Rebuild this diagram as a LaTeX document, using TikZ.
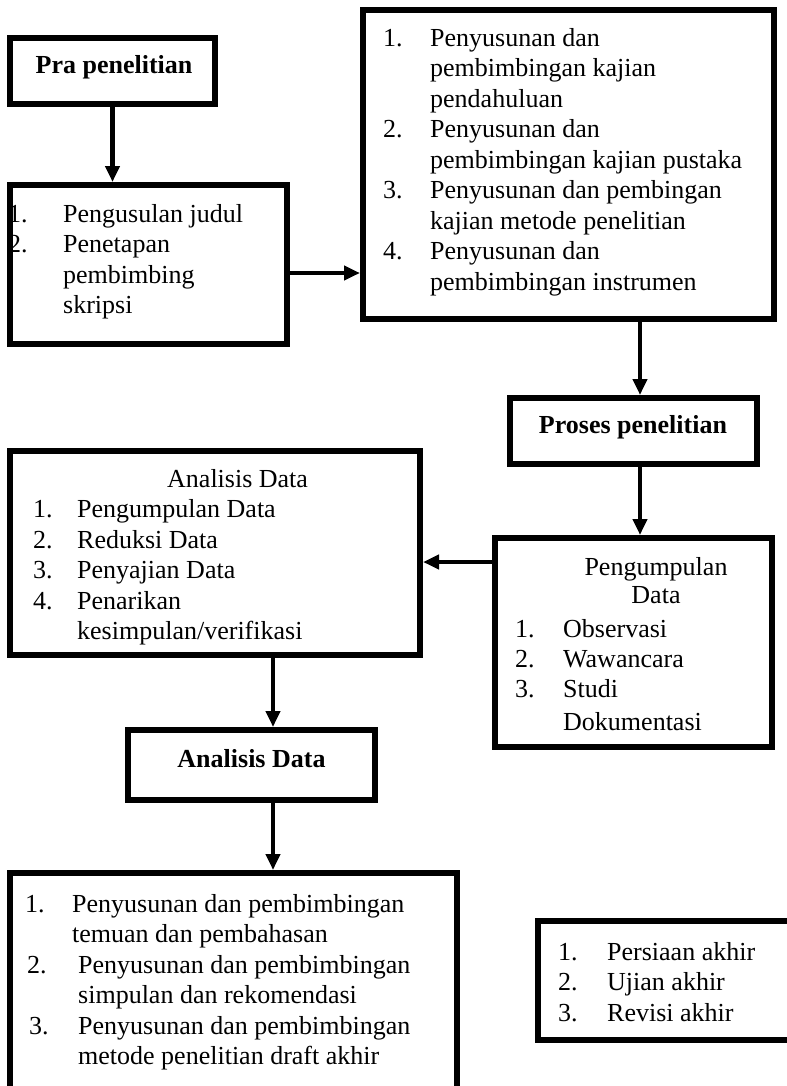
\documentclass[tikz,border=0pt]{standalone}
\usepackage{fontspec}
\setmainfont{Liberation Serif}
\usetikzlibrary{arrows.meta}

\begin{document}
\begin{tikzpicture}[x=1bp, y=-1bp,
		box/.style={draw, line width=6bp, inner sep=0pt},
		arr/.style={line width=4.5bp, -{Triangle[width=14bp,length=16bp]}},
		txt/.style={inner sep=0pt, anchor=base west, font=\fontsize{26bp}{30.5bp}\selectfont},
		head/.style={inner sep=0pt, anchor=base, font=\fontsize{26bp}{30.5bp}\selectfont\bfseries}]
			%%%%% START %%%%%
			
			\clip (0, 0) rectangle (787, 1086);
			
			% boxes
			\node[box, minimum width=205bp, minimum height=66bp] (pra) at (112.5, 71) {};
			\node[box, minimum width=277bp, minimum height=159bp] (usul) at (148.5, 264.5) {};
			\node[box, minimum width=411bp, minimum height=309bp] (kajian) at (568.5, 164.5) {};
			\node[box, minimum width=247bp, minimum height=66bp] (proses) at (633.5, 431) {};
			\node[box, minimum width=277bp, minimum height=209bp] (kumpul) at (633.5, 642.5) {};
			\node[box, minimum width=410bp, minimum height=204bp] (analisis) at (215, 553) {};
			\node[box, minimum width=247bp, minimum height=70bp] (hasil) at (251.5, 765) {};
			\node[box, minimum width=447bp, minimum height=224bp] (susun) at (233.5, 985) {};
			\node[box, minimum width=259bp, minimum height=119bp] (akhir) at (667.5, 980.5) {};
			
			% texts
			\node[head] (praT) at (114, 73) {Pra penelitian};
			\node[txt] (usulT) at (8, 222) {\begin{tabular}[t]{@{}p{55bp}@{}l@{}}
				1. & Pengusulan judul\\
				2. & Penetapan\\
				& pembimbing\\
				& skripsi
			\end{tabular}};
			\node[txt] (kajianT) at (383, 46) {\begin{tabular}[t]{@{}p{47bp}@{}l@{}}
				1. & Penyusunan dan\\
				& pembimbingan kajian\\
				& pendahuluan\\
				2. & Penyusunan dan\\
				& pembimbingan kajian pustaka\\
				3. & Penyusunan dan pembingan\\
				& kajian metode penelitian\\
				4. & Penyusunan dan\\
				& pembimbingan instrumen
			\end{tabular}};
			\node[head] (prosesT) at (633, 433) {Proses penelitian};
			\node[txt, anchor=base] (kumpulH) at (656, 575) {\begin{tabular}[t]{@{}c@{}}
				Pengumpulan\\[-2.5bp]
				Data
			\end{tabular}};
			\node[txt] (kumpulT) at (515, 637) {\begin{tabular}[t]{@{}p{48bp}@{}l@{}}
				1. & Observasi\\[-0.5bp]
				2. & Wawancara\\[-0.5bp]
				3. & Studi\\[2.5bp]
				& Dokumentasi
			\end{tabular}};
			\node[txt] (analisisT) at (33, 487) {\begin{tabular}[t]{@{}p{44bp}@{}l@{}}
				\multicolumn{2}{@{}l@{}}{\hspace{134bp}Analisis Data}\\
				1. & Pengumpulan Data\\
				2. & Reduksi Data\\
				3. & Penyajian Data\\
				4. & Penarikan\\
				& kesimpulan/verifikasi
			\end{tabular}};
			\node[head] (hasilT) at (251.5, 767) {Analisis Data};
			\node[txt] (susunT) at (25, 912) {\begin{tabular}[t]{@{}p{47bp}@{}l@{}}
				1. & Penyusunan dan pembimbingan\\
				& temuan dan pembahasan\\
				\hspace{2bp}2. & \hspace{6bp}Penyusunan dan pembimbingan\\
				& \hspace{6bp}simpulan dan rekomendasi\\
				\hspace{4bp}3. & \hspace{6bp}Penyusunan dan pembimbingan\\
				& \hspace{6bp}metode penelitian draft akhir
			\end{tabular}};
			\node[txt] (akhirT) at (558, 960) {\begin{tabular}[t]{@{}p{49bp}@{}l@{}}
				1. & Persiaan akhir\\
				2. & Ujian akhir\\
				3. & Revisi akhir
			\end{tabular}};
			
			% connectors
			\draw[arr] (pra.south) -- (pra.south |- usul.north);
			\draw[arr] ([yshift=-8.5bp]usul.east) -- ([yshift=-8.5bp]usul.east -| kajian.west);
			\draw[arr] ([xshift=6.5bp]proses.north |- kajian.south) -- ([xshift=6.5bp]proses.north);
			\draw[arr] ([xshift=6.5bp]proses.south) -- ([xshift=6.5bp]proses.south |- kumpul.north);
			\draw[arr] ([yshift=80.5bp]kumpul.west) -- ([yshift=80.5bp]kumpul.west -| analisis.east);
			\draw[arr] ([xshift=21.5bp]hasil.north |- analisis.south) -- ([xshift=21.5bp]hasil.north);
			\draw[arr] ([xshift=21.5bp]hasil.south) -- ([xshift=21.5bp]hasil.south |- susun.north);
			
			%%%%% END %%%%%
		\end{tikzpicture}
\end{document}
